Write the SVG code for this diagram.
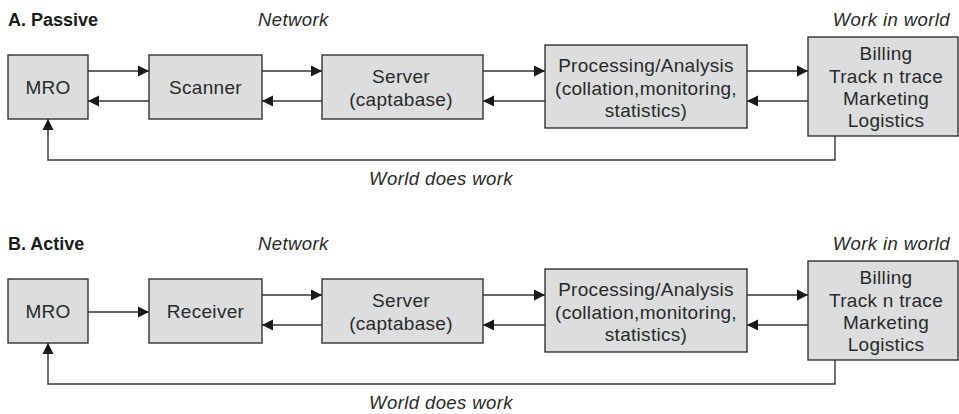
<svg xmlns="http://www.w3.org/2000/svg" width="959" height="414" viewBox="0 0 959 414">
<defs>
<style>
.bg{fill:#ffffff}
.box{fill:#dcdddf;stroke:#333333;stroke-width:1.4}
.t{font-family:"Liberation Sans",Arial,sans-serif;font-size:19px;fill:#2a2a2a;text-anchor:middle;letter-spacing:0.3px}
.title{font-family:"Liberation Sans",Arial,sans-serif;font-size:18px;font-weight:bold;fill:#1a1a1a}
.it{font-family:"Liberation Sans",Arial,sans-serif;font-size:18.5px;font-style:italic;fill:#2a2a2a;letter-spacing:0.4px}
.ln{fill:none;stroke:#333333;stroke-width:1.4}
</style>
<marker id="ah" markerUnits="userSpaceOnUse" markerWidth="12" markerHeight="12" viewBox="0 0 12 12" refX="11" refY="6" orient="auto">
<path d="M0,0.5 L11,6 L0,11.5 Z" fill="#1a1a1a"/>
</marker>
</defs>
<rect class="bg" x="0" y="0" width="959" height="414"/>

<g id="panelA">
<text class="title" x="8" y="26">A. Passive</text>
<text class="it" x="258" y="26">Network</text>
<text class="it" x="950" y="26" text-anchor="end">Work in world</text>
<text class="it" x="441" y="185" text-anchor="middle">World does work</text>

<g id="a-mro"><rect class="box" x="8" y="55" width="80" height="64"/><text class="t" x="48" y="94">MRO</text></g>
<g id="a-scanner"><rect class="box" x="149" y="55" width="113" height="64"/><text class="t" x="205.5" y="94">Scanner</text></g>
<g id="a-server"><rect class="box" x="322" y="55" width="161" height="64"/><text class="t" x="401" y="83">Server</text><text class="t" x="401" y="106">(captabase)</text></g>
<g id="a-proc"><rect class="box" x="545" y="45" width="202" height="83"/><text class="t" x="646" y="72">Processing/Analysis</text><text class="t" x="646" y="95">(collation,monitoring,</text><text class="t" x="646" y="117">statistics)</text></g>
<g id="a-work"><rect class="box" x="808" y="37" width="150" height="99"/><text class="t" x="886" y="60">Billing</text><text class="t" x="886" y="83">Track n trace</text><text class="t" x="886" y="105">Marketing</text><text class="t" x="886" y="127">Logistics</text></g>

<g id="a-connectors">
<path class="ln" d="M88,71 H149" marker-end="url(#ah)"/>
<path class="ln" d="M149,101 H88" marker-end="url(#ah)"/>
<path class="ln" d="M262,71 H322" marker-end="url(#ah)"/>
<path class="ln" d="M322,101 H262" marker-end="url(#ah)"/>
<path class="ln" d="M483,71 H545" marker-end="url(#ah)"/>
<path class="ln" d="M545,101 H483" marker-end="url(#ah)"/>
<path class="ln" d="M747,71 H808" marker-end="url(#ah)"/>
<path class="ln" d="M808,101 H747" marker-end="url(#ah)"/>
<path class="ln" d="M835,136 V160 H48 V119" marker-end="url(#ah)"/>
</g>
</g>

<g id="panelB" transform="translate(0,224)">
<text class="title" x="8" y="26">B. Active</text>
<text class="it" x="258" y="26">Network</text>
<text class="it" x="950" y="26" text-anchor="end">Work in world</text>
<text class="it" x="441" y="185" text-anchor="middle">World does work</text>

<g id="b-mro"><rect class="box" x="8" y="55" width="80" height="64"/><text class="t" x="48" y="94">MRO</text></g>
<g id="b-receiver"><rect class="box" x="149" y="55" width="113" height="64"/><text class="t" x="205.5" y="94">Receiver</text></g>
<g id="b-server"><rect class="box" x="322" y="55" width="161" height="64"/><text class="t" x="401" y="83">Server</text><text class="t" x="401" y="106">(captabase)</text></g>
<g id="b-proc"><rect class="box" x="545" y="45" width="202" height="83"/><text class="t" x="646" y="72">Processing/Analysis</text><text class="t" x="646" y="95">(collation,monitoring,</text><text class="t" x="646" y="117">statistics)</text></g>
<g id="b-work"><rect class="box" x="808" y="37" width="150" height="99"/><text class="t" x="886" y="60">Billing</text><text class="t" x="886" y="83">Track n trace</text><text class="t" x="886" y="105">Marketing</text><text class="t" x="886" y="127">Logistics</text></g>

<g id="b-connectors">
<path class="ln" d="M88,88 H149" marker-end="url(#ah)"/>
<path class="ln" d="M262,71 H322" marker-end="url(#ah)"/>
<path class="ln" d="M322,101 H262" marker-end="url(#ah)"/>
<path class="ln" d="M483,71 H545" marker-end="url(#ah)"/>
<path class="ln" d="M545,101 H483" marker-end="url(#ah)"/>
<path class="ln" d="M747,71 H808" marker-end="url(#ah)"/>
<path class="ln" d="M808,101 H747" marker-end="url(#ah)"/>
<path class="ln" d="M835,136 V160 H48 V119" marker-end="url(#ah)"/>
</g>
</g>
</svg>
